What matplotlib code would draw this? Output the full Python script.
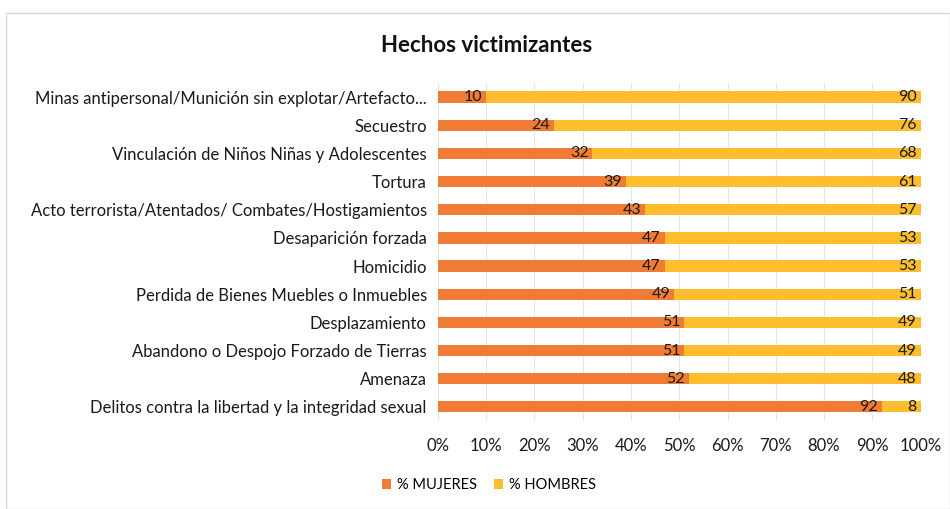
import matplotlib
matplotlib.use("Agg")
from matplotlib import pyplot as plt
import numpy as np

categorias = [
    "Minas antipersonal/Munición sin explotar/Artefacto...",
    "Secuestro",
    "Vinculación de Niños Niñas y Adolescentes",
    "Tortura",
    "Acto terrorista/Atentados/ Combates/Hostigamientos",
    "Desaparición forzada",
    "Homicidio",
    "Perdida de Bienes Muebles o Inmuebles",
    "Desplazamiento",
    "Abandono o Despojo Forzado de Tierras",
    "Amenaza",
    "Delitos contra la libertad y la integridad sexual",
]
mujeres = [10, 24, 32, 39, 43, 47, 47, 49, 51, 51, 52, 92]
hombres = [90, 76, 68, 61, 57, 53, 53, 51, 49, 49, 48, 8]

plt.rcParams['font.family'] = ['Lato', 'DejaVu Sans']

fig = plt.figure(figsize=(9.5, 5.09), dpi=100)
ax = fig.add_axes([0.461, 0.173, 0.508, 0.664])

y = np.arange(len(categorias))
c_muj = "#EF7B35"
c_hom = "#FDBD2C"
ax.barh(y, mujeres, height=0.4, color=c_muj, label="% MUJERES", zorder=2)
ax.barh(y, hombres, left=mujeres, height=0.4, color=c_hom, label="% HOMBRES", zorder=2)

for i in range(len(y)):
    ax.text(mujeres[i] - 0.8, y[i], str(mujeres[i]), ha="right", va="center",
            fontsize=11.5, color="#1a1a1a", zorder=3)
    ax.text(100 - 0.8, y[i], str(hombres[i]), ha="right", va="center",
            fontsize=11.5, color="#1a1a1a", zorder=3)

ax.set_xlim(0, 100)
ax.set_ylim(len(y) - 0.5, -0.5)
ax.set_yticks(y)
ax.set_yticklabels(categorias, fontsize=12, color="#1a1a1a")
ax.set_xticks(np.arange(0, 101, 10))
ax.set_xticklabels(["{}%".format(v) for v in range(0, 101, 10)], fontsize=12, color="#1a1a1a")
ax.tick_params(length=0, pad=12)
ax.tick_params(axis="y", pad=8)
ax.grid(axis="x", color="#e6e6e6", linewidth=0.8, zorder=0)
for s in ax.spines.values():
    s.set_visible(False)

fig.text(0.512, 0.91, "Hechos victimizantes", ha="center", va="center",
         fontsize=16, fontweight="bold", color="#111111")

fig.legend(loc="center", bbox_to_anchor=(0.515, 0.047), ncol=2, frameon=False,
           fontsize=10.5, handlelength=0.6, handleheight=0.6, columnspacing=1.2,
           handletextpad=0.4)

border = plt.Rectangle((0.006, 0.0), 0.994, 0.975, transform=fig.transFigure,
                       fill=False, edgecolor="#d9d9d9", linewidth=1)
fig.patches.append(border)

fig.savefig("out.png", dpi=100, facecolor="white")
